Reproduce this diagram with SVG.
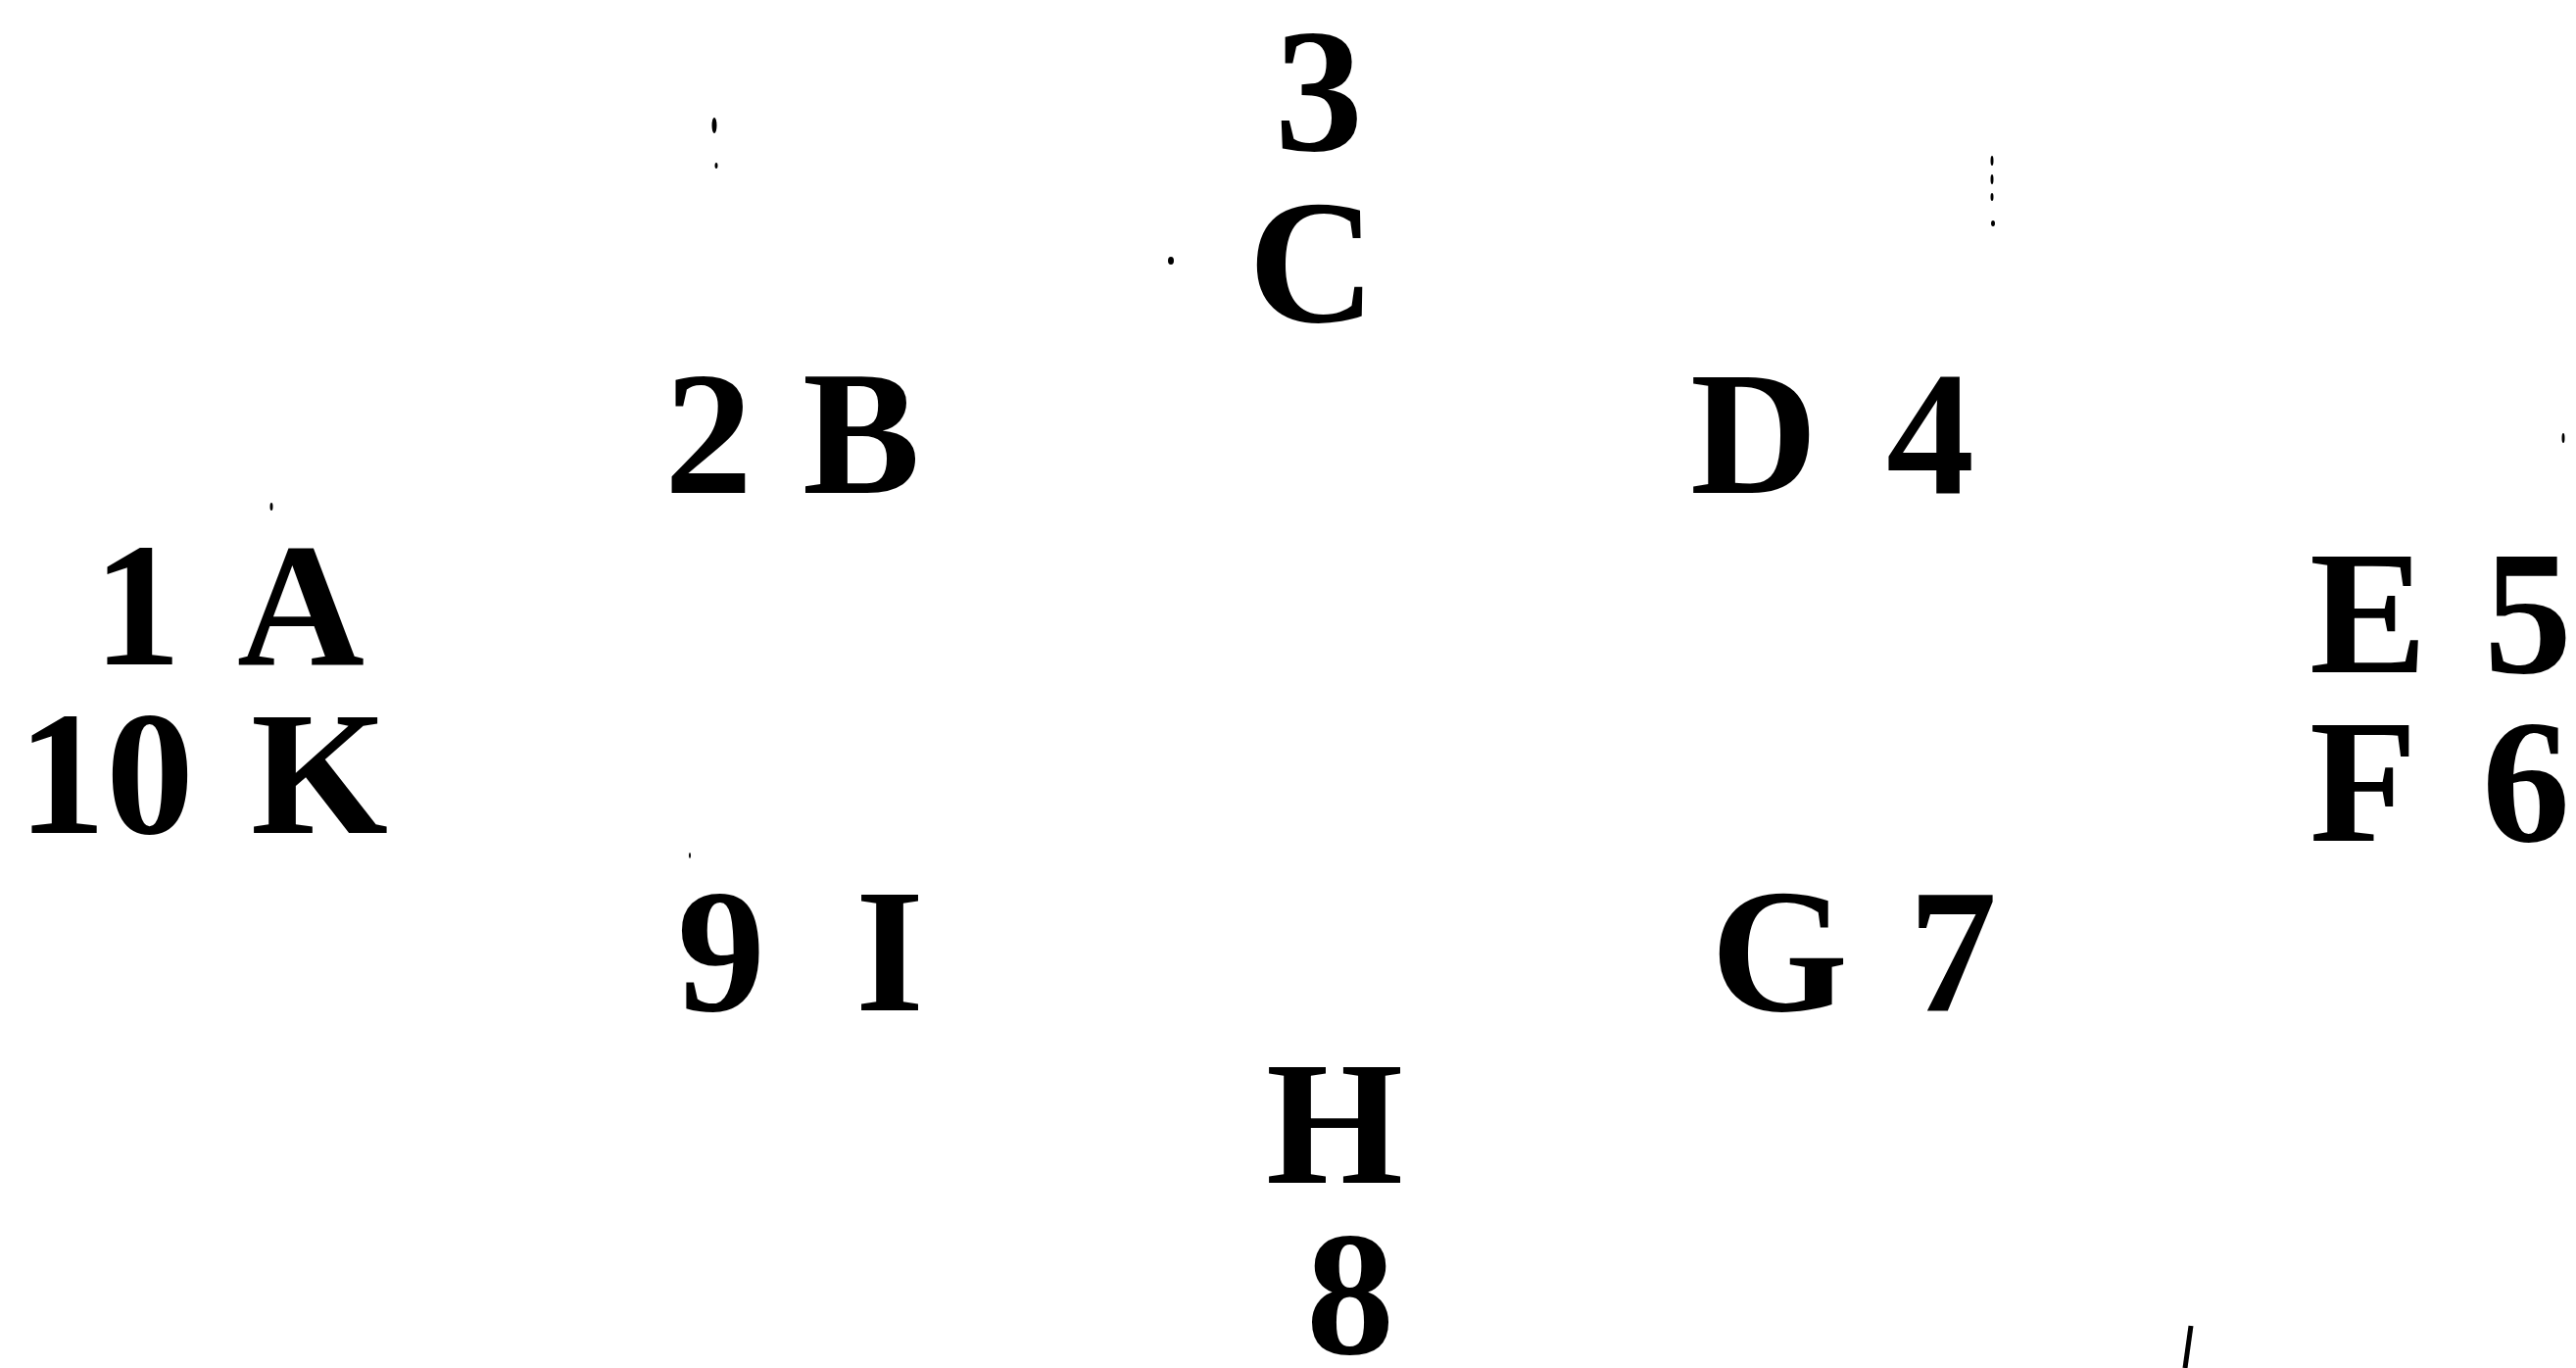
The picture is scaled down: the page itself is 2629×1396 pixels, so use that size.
<svg xmlns="http://www.w3.org/2000/svg" width="2629" height="1396" viewBox="0 0 2629 1396">
<style>
.t{font-family:"Liberation Serif","DejaVu Serif",serif;font-weight:bold;font-size:180px;fill:#000;text-anchor:middle}
.s{fill:#000}
</style>
<rect width="2629" height="1396" fill="#fff"/>
<g id="node-1"><text class="t" x="140" y="678">1</text><text class="t" x="307" y="678">A</text></g>
<g id="node-2"><text class="t" x="723" y="503">2</text><text class="t" x="879" y="503">B</text></g>
<g id="node-3"><text class="t" x="1346" y="153">3</text><text class="t" x="1339" y="328">C</text></g>
<g id="node-4"><text class="t" x="1790" y="503">D</text><text class="t" x="1970" y="503">4</text></g>
<g id="node-5"><text class="t" x="2417" y="686">E</text><text class="t" x="2580" y="686">5</text></g>
<g id="node-6"><text class="t" x="2412" y="858">F</text><text class="t" x="2578" y="858">6</text></g>
<g id="node-7"><text class="t" x="1816" y="1031">G</text><text class="t" x="1993" y="1031">7</text></g>
<g id="node-8"><text class="t" x="1362" y="1207">H</text><text class="t" x="1378" y="1381">8</text></g>
<g id="node-9"><text class="t" x="736" y="1031">9</text><text class="t" x="908" y="1031">I</text></g>
<g id="node-10"><text class="t" x="108" y="850">10</text><text class="t" x="326" y="850">K</text></g>
<g id="connectors">
<ellipse class="s" cx="1195" cy="266" rx="3" ry="4"/>
<ellipse class="s" cx="729" cy="128" rx="2.5" ry="8"/>
<ellipse class="s" cx="731" cy="169" rx="1.5" ry="3"/>
<ellipse class="s" cx="2033" cy="164" rx="1.5" ry="5"/>
<ellipse class="s" cx="2033" cy="183" rx="1.5" ry="5"/>
<ellipse class="s" cx="2033" cy="201" rx="1.5" ry="4"/>
<ellipse class="s" cx="2034" cy="228" rx="2" ry="3"/>
<ellipse class="s" cx="277" cy="517" rx="1.5" ry="4"/>
<ellipse class="s" cx="2616" cy="447" rx="1.5" ry="5"/>
<ellipse class="s" cx="704" cy="873" rx="1" ry="3"/>
<path d="M2236 1353 L2230 1396" stroke="#000" stroke-width="5" fill="none"/>
</g>
</svg>
